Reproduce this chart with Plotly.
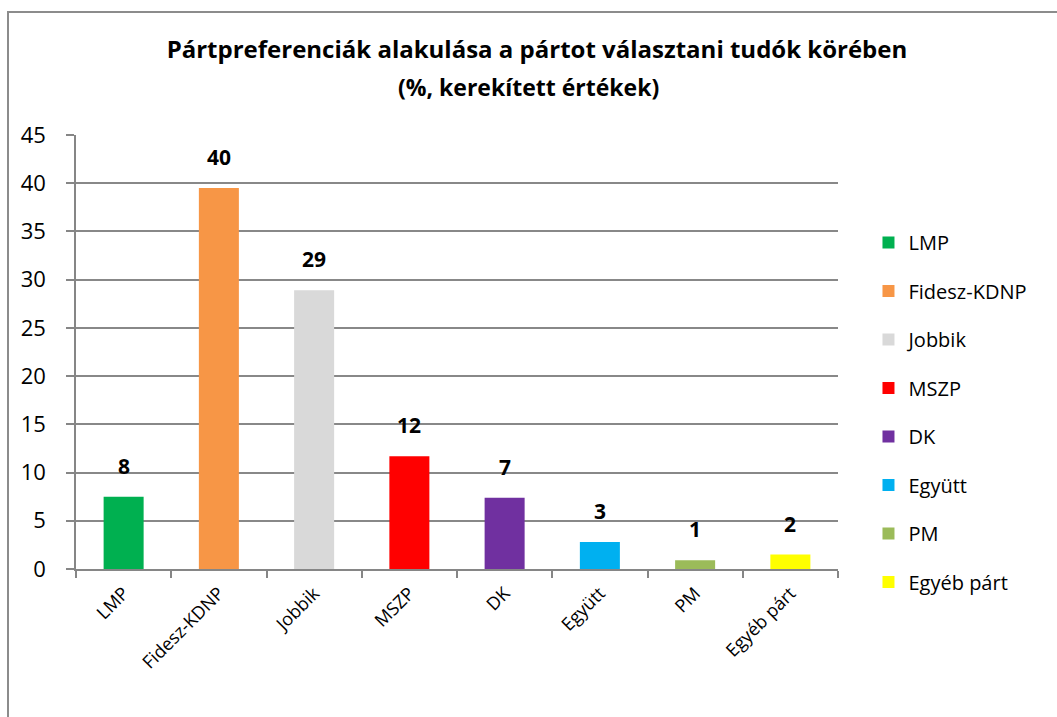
import plotly.graph_objects as go

categories = ["LMP", "Fidesz-KDNP", "Jobbik", "MSZP", "DK", "Együtt", "PM", "Egyéb párt"]
values = [7.5, 39.5, 28.9, 11.7, 7.4, 2.8, 0.9, 1.5]
labels = ["8", "40", "29", "12", "7", "3", "1", "2"]
colors = ["#00b050", "#f79646", "#d9d9d9", "#ff0000", "#7030a0", "#00b0f0", "#9bbb59", "#ffff00"]
y_ticks = [0, 5, 10, 15, 20, 25, 30, 35, 40, 45]
title_line1 = "Pártpreferenciák alakulása a pártot választani tudók körében"
title_line2 = "(%, kerekített értékek)"

FONT = "Open Sans"
W, H = 1057, 717
L, R, T, B = 76, 219, 135, 148
pw = W - L - R
ph = H - T - B

fig = go.Figure()
for i, c in enumerate(categories):
    fig.add_trace(go.Bar(
        x=[c], y=[values[i]], name=c, marker=dict(color=colors[i], line=dict(width=0)),
        width=0.42, legendgroup=c, showlegend=True,
    ))
for i, c in enumerate(categories):
    fig.add_annotation(x=c, y=values[i], text="<b>" + labels[i] + "</b>", showarrow=False,
                       yanchor="bottom", yshift=15, font=dict(family=FONT, size=21, color="#000"))

fig.add_annotation(xref="paper", yref="paper", x=(W / 2 - L) / pw, y=1 + (T - 87) / ph,
                   xanchor="center", yanchor="middle", showarrow=False,
                   text="<b>" + title_line2 + "</b>", font=dict(family=FONT, size=23, color="#000"))

fig.add_shape(type="rect", xref="paper", yref="paper",
              x0=(8 - L) / pw, x1=(1070 - L) / pw, y0=-(730 - T - ph) / ph, y1=1 + (T - 12) / ph,
              line=dict(color="#8c8c8c", width=2), layer="below")

fig.update_layout(
    width=W, height=H, margin=dict(l=L, r=R, t=T, b=B, autoexpand=False),
    paper_bgcolor="white", plot_bgcolor="white",
    barmode="overlay",
    title=dict(text="<b>" + title_line1 + "</b>",
               x=0.508, xanchor="center", xref="container", y=1 - 50 / H, yanchor="middle", yref="container",
               font=dict(family=FONT, size=24, color="#000")),
    legend=dict(x=1.04, xanchor="left", y=0.797, yanchor="top", tracegroupgap=19.5,
                font=dict(family=FONT, size=20, color="#000"), itemwidth=30, bgcolor="rgba(0,0,0,0)"),
    xaxis=dict(type="category", categoryorder="array", categoryarray=categories,
               showline=True, linecolor="#868686", linewidth=1.5,
               ticks="outside", tickson="boundaries", ticklen=7, tickcolor="#868686", tickwidth=1.5,
               ticklabelstandoff=5,
               tickangle=-45, tickfont=dict(family=FONT, size=18, color="#000"), showgrid=False),
    yaxis=dict(range=[0, 45], tickvals=y_ticks, showline=True, linecolor="#868686", linewidth=1.5,
               ticks="outside", ticklen=8, tickcolor="#868686", tickwidth=1.5, ticklabelstandoff=16,
               showgrid=True, gridcolor="#888888", gridwidth=1.5, zeroline=False,
               tickfont=dict(family=FONT, size=22, color="#000")),
)
fig.write_html("out.html")
